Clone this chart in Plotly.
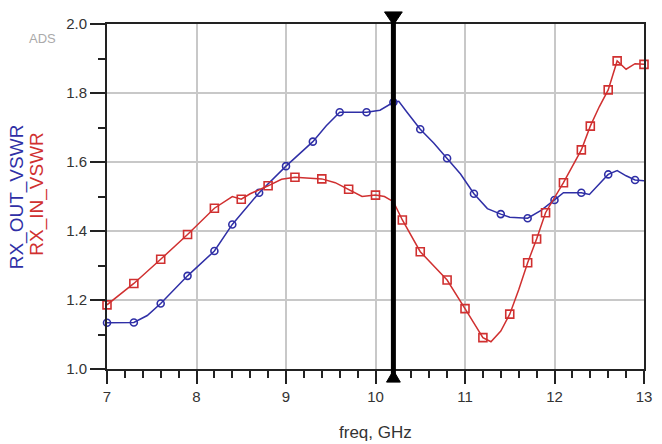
import plotly.graph_objects as go

# ---- data ----
out_freq = [7.0, 7.3, 7.45, 7.6, 7.9, 8.2, 8.4, 8.7, 9.0, 9.3, 9.45, 9.6, 9.9, 10.05, 10.2, 10.26,
            10.35, 10.5, 10.65, 10.8, 10.95, 11.1, 11.25, 11.4, 11.5, 11.7, 11.85, 12.0, 12.1,
            12.3, 12.39, 12.6, 12.7, 12.8, 12.9, 13.0]
out_vswr = [1.134, 1.135, 1.155, 1.190, 1.270, 1.342, 1.419, 1.511, 1.588, 1.659, 1.705, 1.744,
            1.744, 1.750, 1.773, 1.776, 1.745, 1.695, 1.655, 1.611, 1.565, 1.508, 1.465, 1.449,
            1.440, 1.437, 1.460, 1.490, 1.511, 1.511, 1.506, 1.564, 1.575, 1.560, 1.548, 1.546]
out_mk_freq = [7.0, 7.3, 7.6, 7.9, 8.2, 8.4, 8.7, 9.0, 9.3, 9.6, 9.9, 10.2, 10.5, 10.8, 11.1,
               11.4, 11.7, 12.0, 12.3, 12.6, 12.9]
out_mk_vswr = [1.134, 1.135, 1.190, 1.270, 1.342, 1.419, 1.511, 1.588, 1.659, 1.744, 1.744,
               1.773, 1.695, 1.611, 1.508, 1.449, 1.437, 1.490, 1.511, 1.564, 1.548]

in_freq = [7.0, 7.3, 7.6, 7.9, 8.2, 8.4, 8.5, 8.6, 8.8, 8.95, 9.1, 9.4, 9.55, 9.7, 9.85, 10.0,
           10.1, 10.2, 10.3, 10.5, 10.65, 10.8, 11.0, 11.2, 11.29, 11.4, 11.5, 11.6, 11.7, 11.8,
           11.9, 12.0, 12.1, 12.3, 12.4, 12.5, 12.6, 12.7, 12.8, 12.9, 13.0]
in_vswr = [1.186, 1.248, 1.318, 1.390, 1.466, 1.500, 1.492, 1.508, 1.531, 1.550, 1.556, 1.551,
           1.540, 1.521, 1.500, 1.504, 1.500, 1.485, 1.432, 1.340, 1.298, 1.258, 1.175, 1.091,
           1.079, 1.110, 1.159, 1.230, 1.308, 1.377, 1.453, 1.497, 1.540, 1.635, 1.704, 1.760,
           1.809, 1.893, 1.869, 1.885, 1.883]
in_mk_freq = [7.0, 7.3, 7.6, 7.9, 8.2, 8.5, 8.8, 9.1, 9.4, 9.7, 10.0, 10.3, 10.5, 10.8, 11.0,
              11.2, 11.5, 11.7, 11.8, 11.9, 12.1, 12.3, 12.4, 12.6, 12.7, 13.0]
in_mk_vswr = [1.186, 1.248, 1.318, 1.390, 1.466, 1.492, 1.531, 1.556, 1.551, 1.521, 1.504,
              1.432, 1.340, 1.258, 1.175, 1.091, 1.159, 1.308, 1.377, 1.453, 1.540, 1.635,
              1.704, 1.809, 1.893, 1.883]

marker_freq = 10.2          # ADS marker position
x_range = [7, 13]
y_range = [1.0, 2.0]
x_title = "freq, GHz"
out_name = "RX_OUT_VSWR"
in_name = "RX_IN_VSWR"

BLUE = "#2f2fa6"
RED = "#d03030"
FONT = "Liberation Sans, Arial, sans-serif"

fig = go.Figure()
fig.add_trace(go.Scatter(x=out_freq, y=out_vswr, mode="lines",
                         line=dict(color=BLUE, width=1.5), showlegend=False))
fig.add_trace(go.Scatter(x=out_mk_freq, y=out_mk_vswr, mode="markers",
                         marker=dict(symbol="circle-open", size=7, color=BLUE,
                                     line=dict(width=1.6, color=BLUE)),
                         showlegend=False, cliponaxis=False))
fig.add_trace(go.Scatter(x=in_freq, y=in_vswr, mode="lines",
                         line=dict(color=RED, width=1.5), showlegend=False))
fig.add_trace(go.Scatter(x=in_mk_freq, y=in_mk_vswr, mode="markers",
                         marker=dict(symbol="square-open", size=8, color=RED,
                                     line=dict(width=1.6, color=RED)),
                         showlegend=False, cliponaxis=False))

# vertical marker line with triangles (decoration attached to marker_freq)
px_per_ghz = 545.0 / (x_range[1] - x_range[0])
hw_top = 9 / px_per_ghz
hw_bot = 7 / px_per_ghz
fig.add_shape(type="line", xref="x", yref="paper", x0=marker_freq, x1=marker_freq,
              y0=-0.03, y1=1.02, line=dict(color="black", width=5), layer="above")
fig.add_shape(type="path", xref="x", yref="paper",
              path=f"M {marker_freq - hw_top} 1.035 L {marker_freq + hw_top} 1.035 "
                   f"L {marker_freq} 0.997 Z",
              fillcolor="black", line=dict(color="black", width=1), layer="above")
fig.add_shape(type="path", xref="x", yref="paper",
              path=f"M {marker_freq - hw_bot} -0.038 L {marker_freq + hw_bot} -0.038 "
                   f"L {marker_freq} -0.004 Z",
              fillcolor="black", line=dict(color="black", width=1), layer="above")

fig.update_layout(
    width=662, height=444,
    margin=dict(l=107, r=10, t=24, b=75),
    paper_bgcolor="white", plot_bgcolor="white",
    font=dict(family=FONT, size=15, color="#333333"),
    xaxis=dict(range=x_range, dtick=1, tick0=7, showgrid=True, gridcolor="#c8c8c8",
               gridwidth=2, zeroline=False, showline=True, linecolor="#222222",
               linewidth=2, mirror=True, ticks="outside", ticklen=13, tickwidth=2,
               tickcolor="#222222",
               minor=dict(dtick=0.2, ticks="outside", ticklen=7, tickwidth=2,
                          tickcolor="#222222", showgrid=False),
               tickfont=dict(size=15, color="#333333")),
    yaxis=dict(range=y_range, dtick=0.2, tick0=1.0, tickformat=".1f", showgrid=True,
               gridcolor="#c8c8c8", gridwidth=2, zeroline=False, showline=True,
               linecolor="#222222", linewidth=2, mirror=True, ticks="outside",
               ticklen=15, tickwidth=2, tickcolor="#222222",
               minor=dict(dtick=0.1, ticks="outside", ticklen=7, tickwidth=2,
                          tickcolor="#222222", showgrid=False),
               tickfont=dict(size=15, color="#333333")),
    annotations=[
        dict(text=x_title, xref="paper", yref="paper", x=0.5, y=-0.183,
             showarrow=False, xanchor="center", yanchor="middle",
             font=dict(size=17, color="#333333")),
        dict(text=out_name, xref="paper", yref="paper", x=-0.168, y=0.5,
             showarrow=False, textangle=-90, xanchor="center", yanchor="middle",
             font=dict(size=19, color=BLUE)),
        dict(text=in_name, xref="paper", yref="paper", x=-0.131, y=0.507,
             showarrow=False, textangle=-90, xanchor="center", yanchor="middle",
             font=dict(size=19, color=RED)),
        dict(text="ADS", xref="paper", yref="paper", x=-0.121, y=0.959,
             showarrow=False, xanchor="center", yanchor="middle",
             font=dict(size=13, color="#aaaaaa")),
    ],
)

fig.write_html("out.html")
